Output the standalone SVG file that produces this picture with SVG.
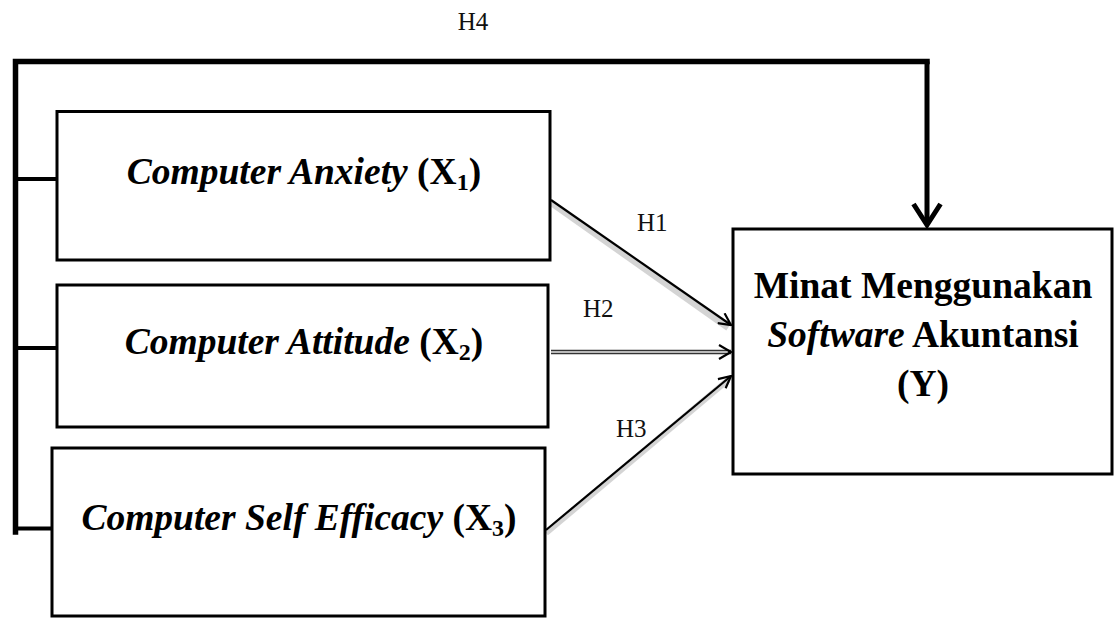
<svg xmlns="http://www.w3.org/2000/svg" width="1114" height="618" viewBox="0 0 1114 618">
  <defs>
    <style>
      .box { fill: #ffffff; stroke: #000000; stroke-width: 3; }
      .frame { fill: none; stroke: #000000; stroke-linejoin: miter; stroke-linecap: square; }
      .main { font-family: "Liberation Serif", "Times New Roman", serif; font-size: 37.5px; font-weight: bold; fill: #000000; }
      .it { font-style: italic; }
      .sub { font-size: 24px; }
      .hlab { font-family: "Liberation Serif", "Times New Roman", serif; font-size: 25px; fill: #111111; }
      .shadow { stroke: #b8b8b8; stroke-width: 6; fill: none; opacity: 0.6; }
      .hyp { stroke: #000000; stroke-width: 2.2; fill: none; }
    </style>
    <marker id="ahead" viewBox="0 0 14 14" refX="13" refY="7" markerWidth="14" markerHeight="14" markerUnits="userSpaceOnUse" orient="auto">
      <path d="M1,1 L13,7 L1,13" fill="none" stroke="#000000" stroke-width="2.2"/>
    </marker>
  </defs>

  <g id="connectors">
    <!-- left bracket -->
    <path class="frame" d="M15.5,532 L15.5,61.5 L927,61.5" stroke-width="5.5"/>
    <line class="frame" x1="15" y1="179" x2="57" y2="179" stroke-width="4"/>
    <line class="frame" x1="15" y1="348" x2="57" y2="348" stroke-width="4"/>
    <line class="frame" x1="15" y1="528.5" x2="52" y2="528.5" stroke-width="4"/>
    <!-- H4 arrow -->
    <line x1="927" y1="61.5" x2="927" y2="224" stroke="#000" stroke-width="5"/>
    <path d="M913.5,204 L927,225 L940.5,204" fill="none" stroke="#000" stroke-width="5" stroke-linejoin="miter"/>
    <!-- H1 -->
    <line class="shadow" x1="551" y1="203" x2="728" y2="328"/>
    <line class="hyp" x1="551" y1="200" x2="731" y2="325" marker-end="url(#ahead)"/>
    <!-- H2 -->
    <line x1="551" y1="352" x2="731" y2="352" stroke="#333" stroke-width="4.5"/>
    <line x1="551" y1="352" x2="728" y2="352" stroke="#e8e8e8" stroke-width="1.3"/>
    <path d="M719,345 L731,352 L719,359" fill="none" stroke="#000" stroke-width="2.2"/>
    <!-- H3 -->
    <line class="shadow" x1="546" y1="533" x2="728" y2="380"/>
    <line class="hyp" x1="546" y1="530" x2="731" y2="376" marker-end="url(#ahead)"/>
  </g>

  <g id="node-x1">
    <rect class="box" x="57" y="111.5" width="493" height="148.5"/>
    <text class="main" x="304" y="184" text-anchor="middle"><tspan class="it">Computer Anxiety</tspan> (X<tspan class="sub" dy="6">1</tspan><tspan dy="-6">)</tspan></text>
  </g>

  <g id="node-x2">
    <rect class="box" x="57" y="285" width="491" height="142"/>
    <text class="main" x="304" y="354" text-anchor="middle"><tspan class="it">Computer Attitude</tspan> (X<tspan class="sub" dy="6">2</tspan><tspan dy="-6">)</tspan></text>
  </g>

  <g id="node-x3">
    <rect class="box" x="52" y="448" width="493" height="168"/>
    <text class="main" x="299" y="530" text-anchor="middle"><tspan class="it">Computer Self Efficacy</tspan> (X<tspan class="sub" dy="6">3</tspan><tspan dy="-6">)</tspan></text>
  </g>

  <g id="node-y">
    <rect class="box" x="733" y="229" width="379" height="245"/>
    <text class="main" x="923" y="298" text-anchor="middle">Minat Menggunakan</text>
    <text class="main" x="923" y="347" text-anchor="middle"><tspan class="it">Software</tspan> Akuntansi</text>
    <text class="main" x="923" y="396" text-anchor="middle">(Y)</text>
  </g>

  <g id="labels">
    <text class="hlab" x="473" y="30" text-anchor="middle">H4</text>
    <text class="hlab" x="637" y="231">H1</text>
    <text class="hlab" x="583" y="317">H2</text>
    <text class="hlab" x="616" y="437">H3</text>
  </g>
</svg>
